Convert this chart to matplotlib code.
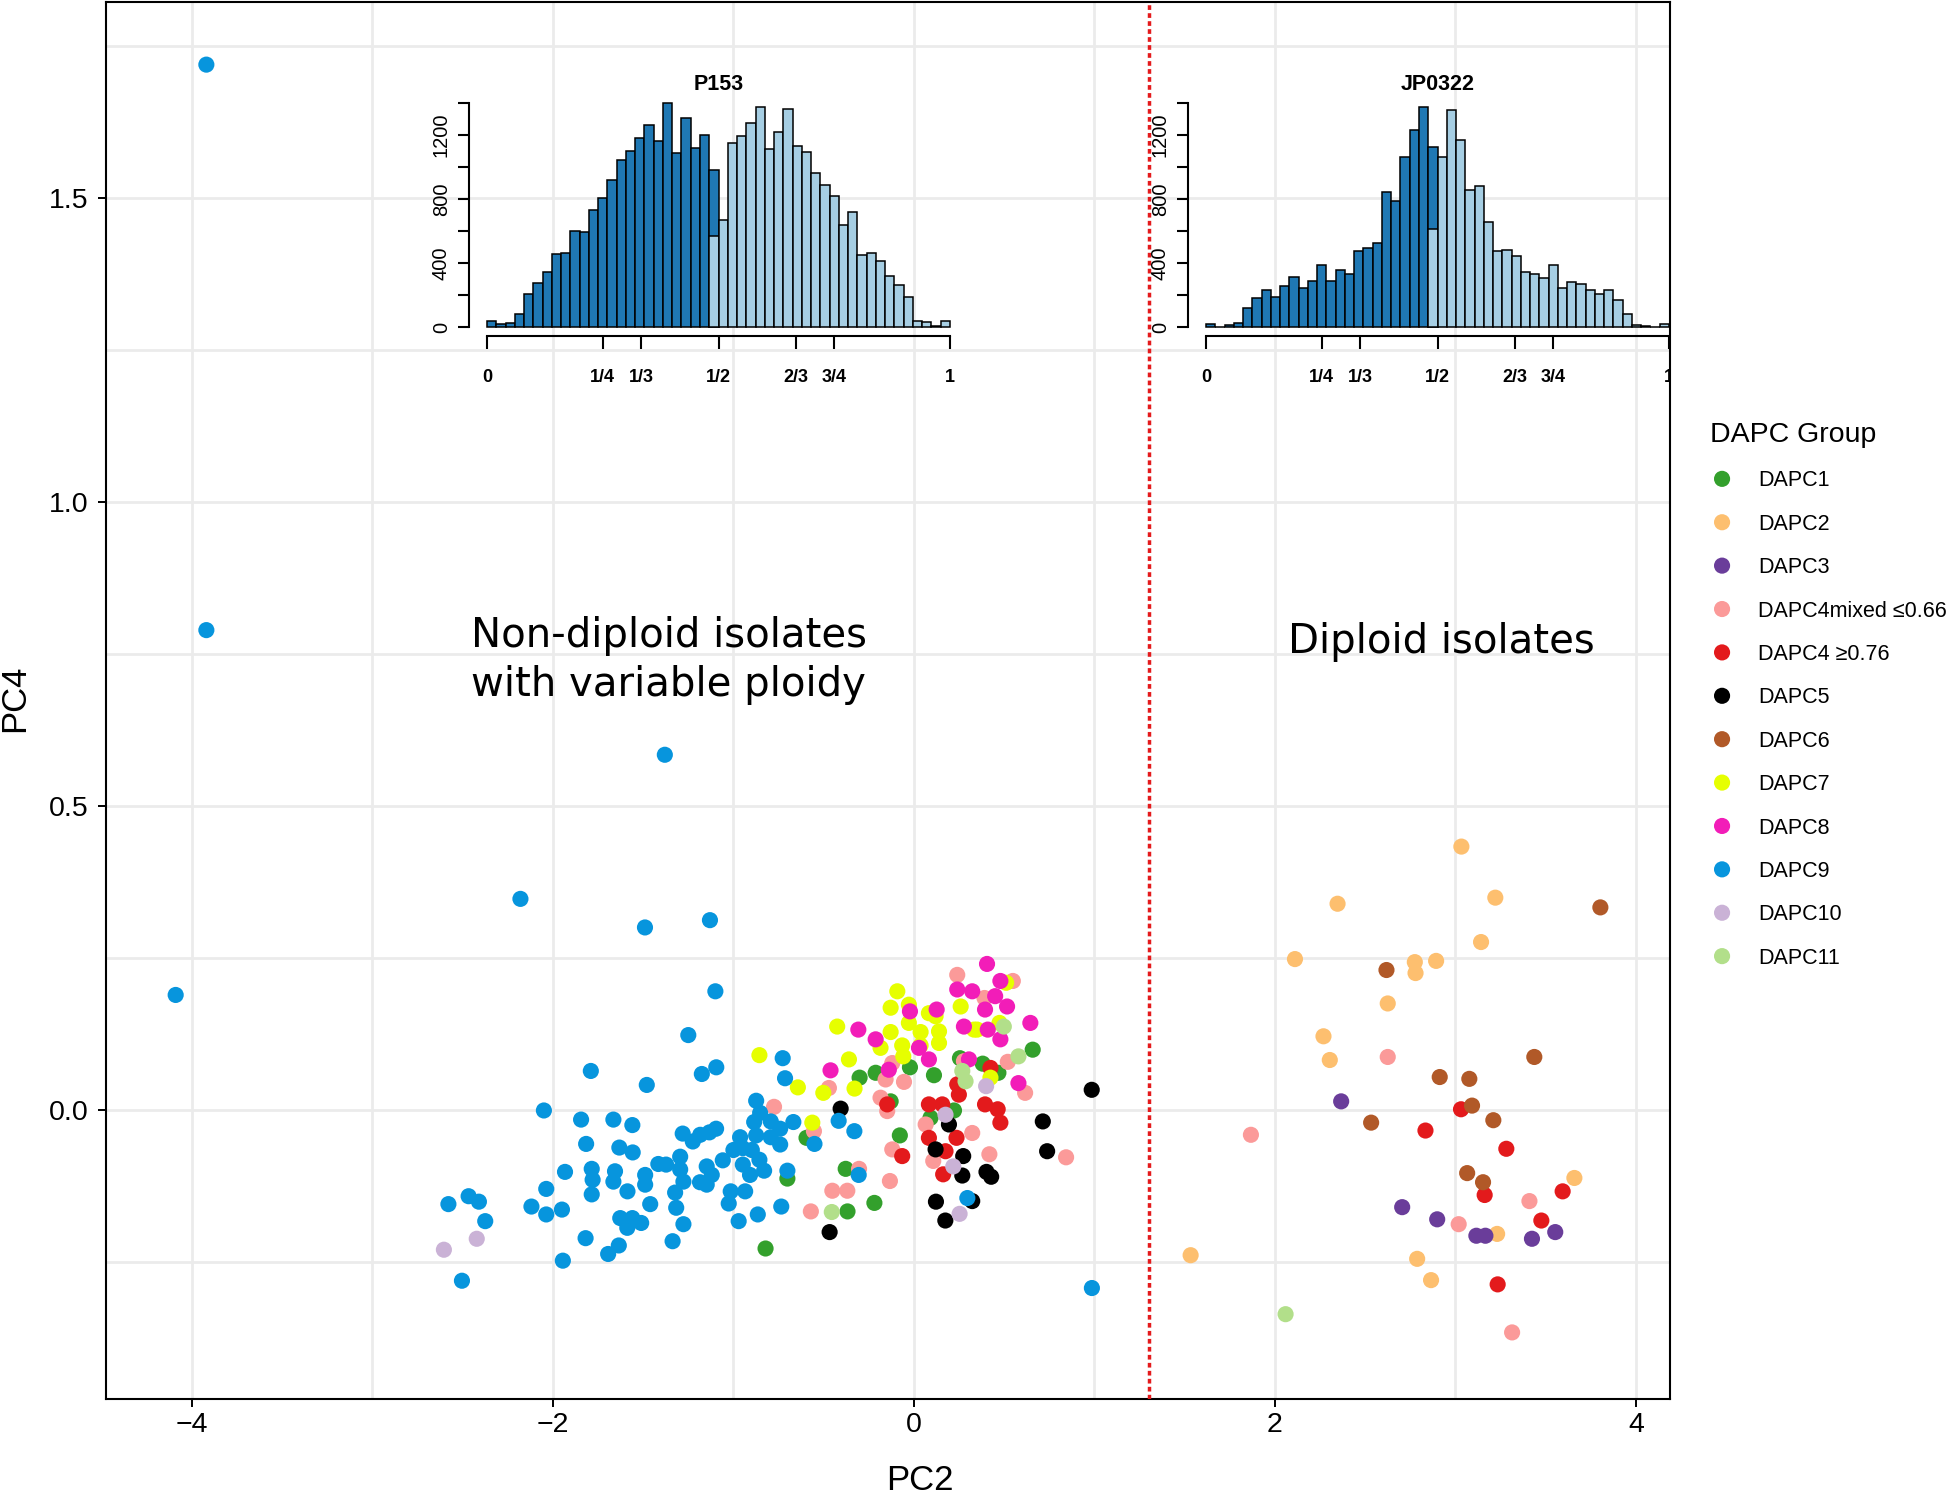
import numpy as np
import matplotlib.pyplot as plt

plt.rcParams['font.family'] = ['Liberation Sans', 'DejaVu Sans']

# ---- scatter data (PC2, PC4) per DAPC group ----
dapc1_pc2 = [-0.301, -0.212, -0.022, 0.111, -0.129, -0.595, -0.078, 0.092, 0.222, 0.255, 0.658, 0.381,
             0.468, -0.701, -0.378, -0.368, -0.219, -0.822]
dapc1_pc4 = [0.054, 0.062, 0.071, 0.058, 0.015, -0.045, -0.041, -0.012, 0.000, 0.086, 0.100, 0.077,
             0.062, -0.112, -0.096, -0.166, -0.152, -0.227]

dapc2_pc2 = [3.033, 2.347, 3.221, 3.142, 2.111, 2.775, 2.779, 2.893, 2.625, 2.269, 2.304, 3.659,
             3.231, 1.533, 2.788, 2.865]
dapc2_pc4 = [0.434, 0.340, 0.350, 0.277, 0.249, 0.244, 0.226, 0.246, 0.176, 0.122, 0.083, -0.111,
             -0.203, -0.238, -0.244, -0.279]

dapc3_pc2 = [2.367, 2.705, 2.899, 3.116, 3.166, 3.424, 3.553]
dapc3_pc4 = [0.015, -0.159, -0.179, -0.206, -0.206, -0.211, -0.200]

dapc4mix_pc2 = [0.240, -0.471, -0.157, -0.055, -0.120, -0.185, -0.148, -0.554, 0.065, 0.323, -0.120,
                0.277, -0.775, 0.548, 0.391, 0.520, 0.616, 0.418, 0.843, -0.304, -0.133, -0.452,
                -0.369, 0.107, -0.571, 2.625, 1.867, 3.410, 3.018, 3.314]
dapc4mix_pc4 = [0.223, 0.037, 0.051, 0.047, 0.078, 0.021, -0.001, -0.034, -0.023, -0.037, -0.064,
                0.081, 0.006, 0.213, 0.185, 0.080, 0.029, -0.072, -0.077, -0.096, -0.116, -0.132,
                -0.132, -0.083, -0.166, 0.088, -0.040, -0.149, -0.187, -0.365]

dapc4_pc2 = [0.083, 0.157, 0.249, 0.240, 0.083, 0.236, -0.148, 0.175, -0.065, 0.424, 0.394, 0.464,
             0.479, 0.162, 3.031, 2.834, 3.282, 3.162, 3.594, 3.476, 3.234]
dapc4_pc4 = [0.010, 0.010, 0.026, 0.043, -0.045, -0.045, 0.010, -0.067, -0.075, 0.070, 0.010, 0.002,
             -0.020, -0.105, 0.002, -0.033, -0.063, -0.139, -0.133, -0.181, -0.286]

dapc5_pc2 = [-0.406, 0.194, 0.120, 0.273, 0.985, 0.714, 0.738, 0.268, 0.402, 0.428, -0.467, 0.122,
             0.174, 0.323]
dapc5_pc4 = [0.003, -0.023, -0.064, -0.075, 0.034, -0.018, -0.067, -0.107, -0.101, -0.109, -0.200,
             -0.150, -0.181, -0.149]

dapc6_pc2 = [3.803, 2.618, 3.437, 2.913, 3.077, 3.092, 2.533, 3.210, 3.065, 3.153]
dapc6_pc4 = [0.334, 0.231, 0.088, 0.055, 0.052, 0.008, -0.020, -0.016, -0.103, -0.118]

dapc7_pc2 = [-0.092, -0.129, -0.028, -0.425, -0.129, -0.185, -0.065, -0.028, 0.037, 0.083, 0.120,
             0.139, 0.139, 0.037, -0.059, -0.360, -0.643, -0.502, -0.329, -0.563, 0.259, 0.333,
             0.511, 0.474, 0.350, 0.424, -0.856]
dapc7_pc4 = [0.196, 0.169, 0.174, 0.138, 0.129, 0.103, 0.107, 0.144, 0.129, 0.160, 0.155,
             0.130, 0.111, 0.107, 0.089, 0.084, 0.038, 0.029, 0.036, -0.020, 0.171, 0.133,
             0.210, 0.144, 0.133, 0.054, 0.091]

dapc8_pc2 = [-0.308, -0.212, -0.462, -0.139, -0.022, 0.126, 0.083, 0.240, 0.323, 0.277, 0.028,
             0.305, 0.405, 0.479, 0.450, 0.516, 0.394, 0.409, 0.645, 0.479, 0.579]
dapc8_pc4 = [0.133, 0.117, 0.066, 0.067, 0.163, 0.166, 0.084, 0.199, 0.196, 0.138, 0.103,
             0.084, 0.241, 0.213, 0.188, 0.171, 0.166, 0.133, 0.144, 0.117, 0.045]

dapc9_pc2 = [-3.92, -3.92, -4.09, -1.38, -2.18, -1.49, -1.13, -1.10, -1.25, -1.79, -1.48, -1.175,
             -1.095, -0.727, -0.714,
             -0.874, -0.852, -1.844, -1.665, -1.560, -1.816, -1.632, -1.558, -1.281, -1.225, -1.184,
             -1.133, -1.096, -0.963, -0.885, -0.874, -0.793, -0.741, -0.668, -0.793, -0.741, -1.0,
             -0.948, -0.898, -1.295, -1.295, -1.933, -1.785, -1.780, -1.656, -1.665, -1.416, -1.373,
             -1.148, -1.059, -1.120, -0.948, -0.908, -0.856, -0.830, -1.489, -1.489, -1.277, -1.185,
             -1.148, -1.587, -1.785, -1.323, -1.015, -0.935, -0.701,
             -2.05, -2.037, -1.026, -1.461, -1.317, -0.735, -1.277, -0.971, -0.865, -1.337, -2.579,
             -2.467, -2.410, -2.375, -2.119, -2.037, -1.950, -1.627, -1.560, -1.588, -1.511, -1.819,
             -1.635, -1.694, -1.945, -2.504, 0.296, 0.986, -0.417, -0.330, -0.551, -0.306]
dapc9_pc4 = [1.72, 0.79, 0.19, 0.585, 0.348, 0.301, 0.313, 0.196, 0.124, 0.065, 0.042, 0.060,
             0.071, 0.086, 0.053,
             0.016, -0.004, -0.015, -0.015, -0.024, -0.055, -0.061, -0.069, -0.038, -0.051, -0.040,
             -0.036, -0.030, -0.044, -0.019, -0.041, -0.018, -0.030, -0.019, -0.044, -0.056, -0.065,
             -0.062, -0.065, -0.076, -0.097, -0.101, -0.096, -0.114, -0.100, -0.117, -0.088, -0.089,
             -0.092, -0.082, -0.106, -0.089, -0.106, -0.081, -0.099, -0.106, -0.122, -0.117, -0.118,
             -0.122, -0.133, -0.138, -0.135, -0.133, -0.133, -0.099,
             0.0, -0.129, -0.153, -0.154, -0.160, -0.158, -0.187, -0.182, -0.171, -0.215, -0.154,
             -0.141, -0.150, -0.182, -0.158, -0.171, -0.163, -0.177, -0.177, -0.193, -0.185, -0.210,
             -0.222, -0.236, -0.247, -0.280, -0.144, -0.292, -0.017, -0.034, -0.055, -0.106]

dapc10_pc2 = [0.175, 0.400, 0.218, 0.253, -2.604, -2.422]
dapc10_pc4 = [-0.007, 0.040, -0.092, -0.170, -0.229, -0.211]

dapc11_pc2 = [0.268, 0.286, 0.498, 0.579, -0.455, 2.059]
dapc11_pc4 = [0.065, 0.048, 0.138, 0.089, -0.167, -0.335]

group_names = ['DAPC1', 'DAPC2', 'DAPC3', 'DAPC4mixed \u22640.66', 'DAPC4 \u22650.76', 'DAPC5',
               'DAPC6', 'DAPC7', 'DAPC8', 'DAPC9', 'DAPC10', 'DAPC11']
group_colors = ['#33A02C', '#FDBF6F', '#6A3D9A', '#FB9A99', '#E31A1C', '#000000',
                '#B15928', '#E6FF00', '#F21DB8', '#0795DD', '#CAB2D6', '#B2DF8A']
group_pc2 = [dapc1_pc2, dapc2_pc2, dapc3_pc2, dapc4mix_pc2, dapc4_pc2, dapc5_pc2,
             dapc6_pc2, dapc7_pc2, dapc8_pc2, dapc9_pc2, dapc10_pc2, dapc11_pc2]
group_pc4 = [dapc1_pc4, dapc2_pc4, dapc3_pc4, dapc4mix_pc4, dapc4_pc4, dapc5_pc4,
             dapc6_pc4, dapc7_pc4, dapc8_pc4, dapc9_pc4, dapc10_pc4, dapc11_pc4]

ploidy_cut = 1.3

# ---- allele frequency histograms (50 bins on 0..1) ----
p153_low = [40, 19, 30, 84, 205, 277, 344, 459, 466, 600, 596, 734, 810, 917, 1045, 1103, 1179,
            1263, 1162, 1403, 1085, 1305, 1116, 1200, 984]
p153_high = [570, 669, 1152, 1194, 1273, 1374, 1110, 1217, 1364, 1131, 1095, 963, 889, 822, 640,
             722, 451, 464, 417, 319, 266, 187, 42, 36, 10, 40]
jp0322_low = [21, 4, 14, 25, 120, 181, 231, 190, 256, 313, 247, 289, 392, 289, 355, 330, 474, 493,
              528, 845, 788, 1060, 1229, 1375, 1128]
jp0322_high = [612, 1066, 1359, 1169, 860, 880, 658, 478, 485, 445, 348, 332, 307, 392, 247, 282,
               268, 235, 206, 231, 173, 82, 14, 8, 4, 21]
frac_ticks = [0, 1 / 4, 1 / 3, 1 / 2, 2 / 3, 3 / 4, 1]
frac_labels = ['0', '1/4', '1/3', '1/2', '2/3', '3/4', '1']
count_ticks = [0, 200, 400, 600, 800, 1000, 1200, 1400]
count_labels = ['0', '', '400', '', '800', '', '1200', '']

W, H = 1955, 1495
fig = plt.figure(figsize=(W / 100, H / 100), dpi=100)
ax = fig.add_axes([106 / W, 1 - 1399 / H, 1563.5 / W, 1397 / H])

for name, col, xs, ys in zip(group_names, group_colors, group_pc2, group_pc4):
    ax.scatter(xs, ys, s=135, color=col, edgecolors='none', label=name, zorder=3)

ax.axvline(ploidy_cut, color='#E41A1C', lw=2.5, ls=(0, (1.35, 0.95)), zorder=4)

ax.set_xlim(-4.476, 4.186)
ax.set_ylim(-0.4745, 1.823)
ax.set_xticks([-4, -2, 0, 2, 4])
ax.set_yticks([0, 0.5, 1.0, 1.5])
ax.set_yticklabels(['0.0', '0.5', '1.0', '1.5'])
ax.set_xticks([-3, -1, 1, 3], minor=True)
ax.set_yticks([-0.25, 0.25, 0.75, 1.25, 1.75], minor=True)
ax.grid(True, which='both', color='#EBEBEB', lw=2.0, zorder=0)
ax.set_axisbelow(True)
ax.tick_params(which='major', length=5.5, width=1.4, labelsize=20.5, color='black')
ax.tick_params(axis='x', pad=4)
ax.tick_params(axis='y', pad=7)
ax.tick_params(which='minor', length=0)
for sp in ax.spines.values():
    sp.set_linewidth(1.5)

fig.text(919.5 / W, 1 - 1481 / H, 'PC2', fontsize=25, ha='center', va='center')
fig.text(15 / W, 1 - 698 / H, 'PC4', fontsize=25, ha='center', va='center', rotation=90)

ax.text(-2.454, 0.762, 'Non-diploid isolates', fontsize=29, family='DejaVu Sans', va='baseline')
ax.text(-2.454, 0.682, 'with variable ploidy', fontsize=29, family='DejaVu Sans', va='baseline')
ax.text(2.072, 0.752, 'Diploid isolates', fontsize=29, family='DejaVu Sans', va='baseline')

leg = ax.legend(title='DAPC Group', loc='upper left', bbox_to_anchor=(1710 / W, 1 - 422 / H),
                bbox_transform=fig.transFigure, frameon=False, fontsize=15.5,
                borderpad=0, borderaxespad=0, handlelength=1.12, handletextpad=1.12,
                labelspacing=1.04, alignment='left', scatterpoints=1, scatteryoffsets=[0.5])
leg.get_title().set_fontsize(20.5)

# ---- inset histograms ----
edges = np.linspace(0, 1, 51)
narrow = ['Liberation Sans Narrow', 'DejaVu Sans Condensed', 'Liberation Sans']


def inset(left_px, title, low, high):
    ia = fig.add_axes([left_px / W, 1 - 336 / H, 500 / W, 237.5 / H])
    ia.patch.set_visible(False)
    ia.bar(edges[:25], low, width=0.02, align='edge', color='#1F78B4', edgecolor='black', lw=1.1)
    ia.bar(edges[24:50], high, width=0.02, align='edge', color='#A6CEE3', edgecolor='black', lw=1.1)
    ia.set_xlim(-0.04, 1.04)
    ia.set_ylim(-54, 1428)
    for s in ['top', 'right']:
        ia.spines[s].set_visible(False)
    ia.spines['left'].set_bounds(0, 1400)
    ia.spines['bottom'].set_bounds(0, 1)
    ia.spines['left'].set_linewidth(1.5)
    ia.spines['bottom'].set_linewidth(1.5)
    ia.set_xticks(frac_ticks)
    ia.set_xticklabels(frac_labels, family=narrow, fontweight='bold', fontsize=13)
    ia.set_yticks(count_ticks)
    ia.set_yticklabels(count_labels, rotation=90, va='center', family='Liberation Sans', fontsize=14.5)
    ia.tick_params(axis='x', length=9, width=1.5, pad=15)
    ia.tick_params(axis='y', length=7.7, width=1.5, pad=5)
    ia.text(0.5, 1515, title, ha='center', va='center', fontsize=15.5, fontweight='bold',
            family=narrow, clip_on=False)
    for lab in ia.get_xticklabels():
        lab.set_clip_box(ax.bbox)
        lab.set_clip_on(True)
    return ia


inset(468.5, 'P153', p153_low, p153_high)
inset(1187.5, 'JP0322', jp0322_low, jp0322_high)

fig.savefig('out.png', dpi=100)
